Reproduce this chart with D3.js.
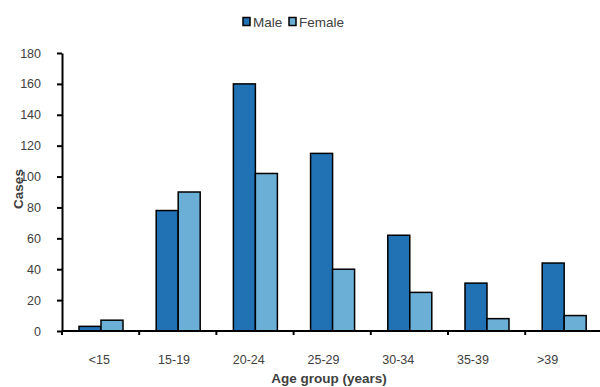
<!DOCTYPE html>
<html><head><meta charset="utf-8">
<script src="https://cdn.jsdelivr.net/npm/d3@7"></script>
<style>body{margin:0;background:#fff;} svg{display:block;font-family:"Liberation Sans",Arial,sans-serif;}</style>
</head><body>
<svg id="c" width="600" height="387"></svg>
<script>
const categories = ["<15","15-19","20-24","25-29","30-34","35-39",">39"];
const seriesNames = ["Male","Female"];
const maleValues = [3,78,160,115,62,31,44];
const femaleValues = [7,90,102,40,25,8,10];
const yTicks = [0,20,40,60,80,100,120,140,160,180];
const colors = ["#2171b5","#6baed6"];

const svg = d3.select("#c");
const x0 = d3.scaleBand().domain(categories).range([62, 602.4]).padding(0);
const bw = x0.bandwidth();
const x1 = d3.scaleBand().domain(seriesNames).range([bw*0.22, bw*0.79]).padding(0);
const xLab = d3.scaleBand().domain(categories).range([62, 585]).padding(0);
const y = d3.scaleLinear().domain([0,180]).range([331,53]);

const data = categories.map((c,i)=>({cat:c, vals:[maleValues[i], femaleValues[i]]}));

// bars
const g = svg.append("g");
data.forEach(d=>{
  d.vals.forEach((v,j)=>{
    g.append("rect")
      .attr("x", x0(d.cat)+x1(seriesNames[j]))
      .attr("y", y(v))
      .attr("width", x1.bandwidth())
      .attr("height", y(0)-y(v))
      .attr("fill", colors[j])
      .attr("stroke","#000").attr("stroke-width",1.5);
  });
});

// y axis
const ya = svg.append("g").attr("transform","translate(62,0)")
  .call(d3.axisLeft(y).tickValues(yTicks).tickSize(5).tickPadding(16).tickSizeOuter(0));
ya.select(".domain").attr("stroke","#000").attr("stroke-width",2);
ya.selectAll(".tick line").attr("stroke","#000").attr("stroke-width",2);
ya.selectAll(".tick text").attr("fill","#404040").style("font-size","12.5px").style("font-family","'Liberation Sans',Arial,sans-serif");

// x axis line and boundary ticks
svg.append("line").attr("x1",62).attr("x2",600).attr("y1",y(0)).attr("y2",y(0))
  .attr("stroke","#000").attr("stroke-width",2);
const bounds = categories.map(c=>x0(c));
svg.selectAll(".xt").data(bounds).enter().append("line")
  .attr("x1",d=>d).attr("x2",d=>d).attr("y1",y(0)).attr("y2",y(0)+4)
  .attr("stroke","#000").attr("stroke-width",2);

// x labels
const xa = svg.append("g").attr("transform",`translate(0,${y(0)})`)
  .call(d3.axisBottom(xLab).tickSize(0).tickPadding(24));
xa.select(".domain").remove();
xa.selectAll(".tick text").attr("fill","#404040").style("font-size","12.5px").style("font-family","'Liberation Sans',Arial,sans-serif");

// titles
svg.append("text").attr("x",329).attr("y",383).attr("text-anchor","middle")
  .attr("font-weight","bold").attr("font-size","13.5px").attr("fill","#404040").text("Age group (years)");
svg.append("text").attr("transform","translate(23,189) rotate(-90)").attr("text-anchor","middle")
  .attr("font-weight","bold").attr("font-size","13.5px").attr("fill","#404040").text("Cases");

// legend
const legX = [243, 289];
seriesNames.forEach((n,i)=>{
  svg.append("rect").attr("x",legX[i]).attr("y",17.5).attr("width",7).attr("height",8)
    .attr("fill",colors[i]).attr("stroke","#000").attr("stroke-width",1.5);
  svg.append("text").attr("x",legX[i]+10).attr("y",27).attr("font-size","13.5px")
    .attr("fill","#404040").text(n);
});
</script>
</body></html>
